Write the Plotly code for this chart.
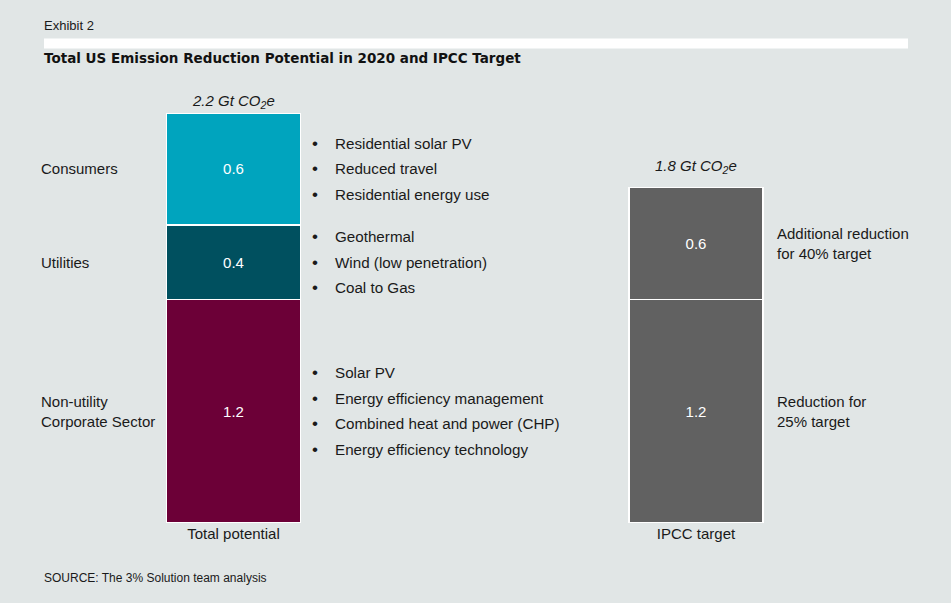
import plotly.graph_objects as go

# ---------------- data ----------------
categories = ["Total potential", "IPCC target"]

sector_names = ["Non-utility<br>Corporate Sector", "Utilities", "Consumers"]
sector_values = [1.2, 0.4, 0.6]
sector_colors = ["#6c0037", "#00505f", "#00a4be"]
sector_items = [
    ["Solar PV", "Energy efficiency management", "Combined heat and power (CHP)", "Energy efficiency technology"],
    ["Geothermal", "Wind (low penetration)", "Coal to Gas"],
    ["Residential solar PV", "Reduced travel", "Residential energy use"],
]

ipcc_names = ["Reduction for<br>25% target", "Additional reduction<br>for 40% target"]
ipcc_values = [1.2, 0.6]
ipcc_color = "#616161"

W, H = 951, 603
TOP, BOTTOM = 113, 80
PLOT_H = H - TOP - BOTTOM
BG = "#e1e6e6"
FONT = "Liberation Sans, Arial, Helvetica, sans-serif"
TXT = "#1a1a1a"


def px_x(p):
    return p / W


def px_y(p):
    return (H - BOTTOM - p) / PLOT_H


fig = go.Figure()

# stacked bars: total potential
for name, val, col in zip(sector_names, sector_values, sector_colors):
    fig.add_trace(go.Bar(
        x=[categories[0]], y=[val], name=name.replace("<br>", " "),
        marker=dict(color=col, line=dict(color="white", width=1.5)),
        text=[f"{val:.1f}"], textposition="inside", insidetextanchor="middle",
        textfont=dict(color="white", size=15, family=FONT),
        width=0.29, hoverinfo="y+name",
    ))
# stacked bars: IPCC target
for name, val in zip(ipcc_names, ipcc_values):
    fig.add_trace(go.Bar(
        x=[categories[1]], y=[val], name=name.replace("<br>", " "),
        marker=dict(color=ipcc_color, line=dict(color="white", width=1.5)),
        text=[f"{val:.1f}"], textposition="inside", insidetextanchor="middle",
        textfont=dict(color="white", size=15, family=FONT),
        width=0.29, hoverinfo="y+name",
    ))

annotations = []

# sector labels, bullets
base = 0.0
for name, val, items in zip(sector_names, sector_values, sector_items):
    mid = base + val / 2
    annotations.append(dict(
        x=px_x(40), xref="paper", y=mid, yref="y", text=name, showarrow=False,
        xanchor="left", yanchor="middle", align="left", borderpad=0,
        font=dict(size=15, color=TXT, family=FONT),
    ))
    n = len(items)
    for i, it in enumerate(items):
        shift = -(i - (n - 1) / 2) * 25.5
        annotations.append(dict(
            x=px_x(315), xref="paper", y=mid, yref="y", yshift=shift, text="•",
            showarrow=False, xanchor="center", yanchor="middle",
            font=dict(size=17, color=TXT, family=FONT),
        ))
        annotations.append(dict(
            x=px_x(334), xref="paper", y=mid, yref="y", yshift=shift, text=it,
            showarrow=False, xanchor="left", yanchor="middle", borderpad=0,
            font=dict(size=15.2, color=TXT, family=FONT),
        ))
    base += val

base = 0.0
for name, val in zip(ipcc_names, ipcc_values):
    mid = base + val / 2
    annotations.append(dict(
        x=px_x(776), xref="paper", y=mid, yref="y", text=name, showarrow=False,
        xanchor="left", yanchor="middle", align="left", borderpad=0,
        font=dict(size=15, color=TXT, family=FONT),
    ))
    base += val

# totals above bars
for cat, total, shift in [(categories[0], sum(sector_values), 0),
                          (categories[1], sum(ipcc_values), 10)]:
    annotations.append(dict(
        x=cat, xref="x", y=total, yref="y", yshift=shift,
        text=f"<i>{total:.1f} Gt CO<sub>2</sub>e</i>", showarrow=False,
        xanchor="center", yanchor="bottom",
        font=dict(size=15, color=TXT, family=FONT),
    ))

# header texts
annotations.append(dict(
    x=px_x(43), xref="paper", y=px_y(25), yref="paper", text="Exhibit 2",
    showarrow=False, xanchor="left", yanchor="middle", borderpad=0,
    font=dict(size=13, color=TXT, family=FONT),
))
annotations.append(dict(
    x=px_x(43), xref="paper", y=px_y(58), yref="paper",
    text="<b>Total US Emission Reduction Potential in 2020 and IPCC Target</b>",
    showarrow=False, xanchor="left", yanchor="middle", borderpad=0,
    font=dict(size=13.5, color="#111111", family="DejaVu Sans, Liberation Sans, sans-serif"),
))
annotations.append(dict(
    x=px_x(43), xref="paper", y=px_y(578), yref="paper",
    text="SOURCE: The 3% Solution team analysis",
    showarrow=False, xanchor="left", yanchor="middle", borderpad=0,
    font=dict(size=12, color=TXT, family=FONT),
))

shapes = [dict(
    type="rect", xref="paper", yref="paper",
    x0=px_x(44), x1=px_x(908), y0=px_y(48.5), y1=px_y(38.5),
    fillcolor="white", line=dict(width=0), layer="below",
)]

# category axis range chosen so bar centres sit at pixel 233.5 and 696
unit = (696 - 233.5)
x0 = -233.5 / unit
x1 = (W - 233.5) / unit

fig.update_layout(
    width=W, height=H,
    margin=dict(l=0, r=0, t=TOP, b=BOTTOM, pad=0),
    barmode="stack",
    showlegend=False,
    paper_bgcolor=BG, plot_bgcolor=BG,
    font=dict(family=FONT, color=TXT),
    xaxis=dict(
        type="category", categoryorder="array", categoryarray=categories,
        range=[x0, x1], showgrid=False, zeroline=False, showline=False,
        ticks="", tickfont=dict(size=15, color=TXT, family=FONT),
        fixedrange=True,
    ),
    yaxis=dict(
        range=[0, 2.2], visible=False, showgrid=False, zeroline=False,
        fixedrange=True,
    ),
    annotations=annotations,
    shapes=shapes,
)

fig.write_html("out.html")
